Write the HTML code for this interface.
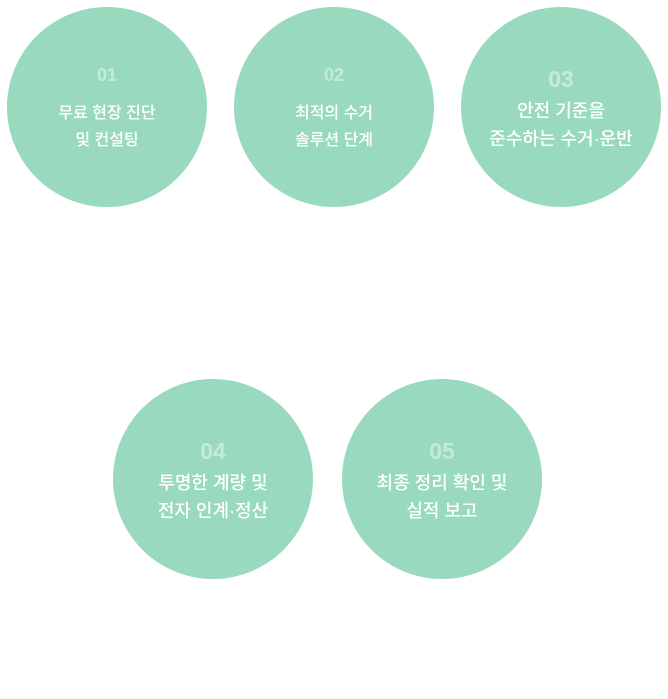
<!DOCTYPE html>
<html><head><meta charset="utf-8"><style>
html,body{margin:0;padding:0;background:#fff;width:668px;height:699px;overflow:hidden;position:relative;font-family:"Liberation Sans","Noto Sans CJK KR",sans-serif}
.c{position:absolute;width:200px;height:200px;border-radius:50%;background:#99dabe}
.t{position:absolute;left:0;width:200px;text-align:center;color:#fff;white-space:nowrap}
.n{color:#c4ebda;font-weight:bold}
.s .n{font-size:18px}.s .l{font-size:16px;font-weight:500}
.b .n{font-size:23px}.b .l{font-size:18px;font-weight:500}
</style></head><body>
<div class="c s" style="left:7px;top:7px"><div class="t n" style="top:58px">01</div><div class="t l" style="top:92px">무료 현장 진단</div><div class="t l" style="top:119px">및 컨설팅</div></div>
<div class="c s" style="left:234px;top:7px"><div class="t n" style="top:58px">02</div><div class="t l" style="top:92px">최적의 수거</div><div class="t l" style="top:119px">솔루션 단계</div></div>
<div class="c b" style="left:461px;top:7px"><div class="t n" style="top:59px">03</div><div class="t l" style="top:90px">안전 기준을</div><div class="t l" style="top:118px">준수하는 수거·운반</div></div>
<div class="c b" style="left:113px;top:379px"><div class="t n" style="top:59px">04</div><div class="t l" style="top:90px">투명한 계량 및</div><div class="t l" style="top:118px">전자 인계·정산</div></div>
<div class="c b" style="left:342px;top:379px"><div class="t n" style="top:59px">05</div><div class="t l" style="top:90px">최종 정리 확인 및</div><div class="t l" style="top:118px">실적 보고</div></div>
</body></html>
